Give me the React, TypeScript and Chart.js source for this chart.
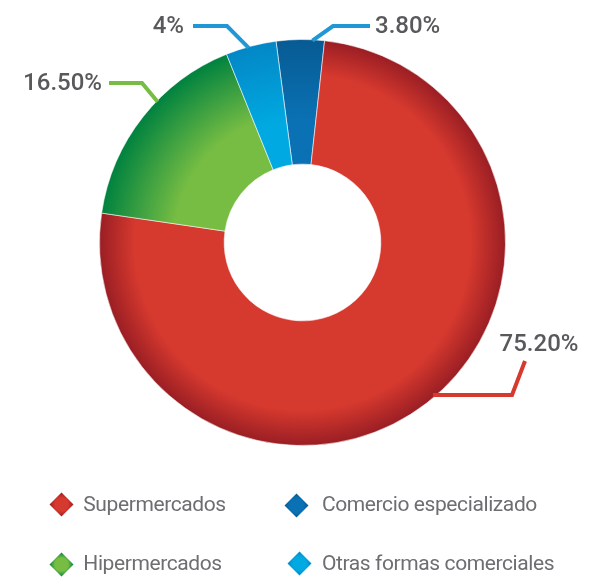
import React, { useEffect, useRef } from 'react';
import { Chart, registerables } from 'chart.js';

Chart.register(...registerables);

// ---- data (clockwise order from the top) ----
const categories = ['Comercio especializado', 'Supermercados', 'Hipermercados', 'Otras formas comerciales'];
const shares = [3.8, 75.2, 16.5, 4];
const valueLabels = ['3.80%', '75.20%', '16.50%', '4%'];
const legendOrder = ['Supermercados', 'Comercio especializado', 'Hipermercados', 'Otras formas comerciales'];

// ---- styles ----
const baseColors = ['#0a71b4', '#d6392e', '#77bd43', '#00a9e1'];
const edgeColors = ['#075b93', '#9a1e24', '#00823f', '#0387c6'];
const edgeStops = [0.35, 0.72, 0.4, 0.35];
const leaderColors = ['#2198d5', '#d6392e', '#77bd43', '#2198d5'];

type Leader = { t: number; kind: 'elbow' | 'bottom'; ex: number; ey: number; len: number; gap: number; base: number };
const leaders: Leader[] = [
  { t: 0.75, kind: 'elbow', ex: 30.5, ey: -216.5, len: 37, gap: 5, base: 7 },
  { t: 0.488, kind: 'bottom', ex: 209.5, ey: 0, len: 0, gap: 0, base: 0 },
  { t: 0.6, kind: 'elbow', ex: -160.5, ey: -159.5, len: -33, gap: 7, base: 7 },
  { t: 0.45, kind: 'elbow', ex: -75.5, ey: -216.5, len: -34, gap: 9, base: 7 },
];

const labelFont = '500 24px Roboto';

const leaderPlugin = {
  id: 'leaderLabels',
  afterDatasetsDraw(chart: any) {
    const meta = chart.getDatasetMeta(0);
    const ctx = chart.ctx;
    ctx.save();
    meta.data.forEach((arc: any, i: number) => {
      const p = arc.getProps(['x', 'y', 'startAngle', 'endAngle', 'outerRadius'], true);
      const L = leaders[i];
      const a = p.startAngle + (p.endAngle - p.startAngle) * L.t;
      const ax = p.x + Math.cos(a) * (p.outerRadius - 1);
      const ay = p.y + Math.sin(a) * (p.outerRadius - 1);
      ctx.strokeStyle = leaderColors[i];
      ctx.lineWidth = 4;
      ctx.lineJoin = 'miter';
      ctx.lineCap = 'butt';
      ctx.font = labelFont;
      ctx.fillStyle = '#58595b';
      ctx.textBaseline = 'alphabetic';
      if (L.kind === 'elbow') {
        const bx = p.x + L.ex;
        const by = p.y + L.ey;
        const cx = bx + L.len;
        ctx.beginPath();
        ctx.moveTo(ax, ay);
        ctx.lineTo(bx, by);
        ctx.lineTo(cx, by);
        ctx.stroke();
        if (L.len > 0) {
          ctx.textAlign = 'left';
          ctx.fillText(valueLabels[i], cx + L.gap, by + L.base);
        } else {
          ctx.textAlign = 'right';
          ctx.fillText(valueLabels[i], cx - L.gap, by + L.base);
        }
      } else {
        const bx = p.x + L.ex;
        const ex = bx + 13;
        const ey = ay - 34;
        ctx.beginPath();
        ctx.moveTo(ax - 2, ay);
        ctx.lineTo(bx, ay);
        ctx.lineTo(ex, ey);
        ctx.stroke();
        ctx.textAlign = 'center';
        ctx.fillText(valueLabels[i], ex + 14, ey - 10);
      }
    });
    ctx.restore();
  },
};

function sliceFill(c: any) {
  const i = c.dataIndex;
  const chart = c.chart;
  const area = chart.chartArea;
  const meta = chart.getDatasetMeta(0);
  const ctrl: any = meta && meta.controller;
  if (!area || !ctrl || !ctrl.outerRadius) return baseColors[i];
  const cx = (area.left + area.right) / 2;
  const cy = (area.top + area.bottom) / 2;
  const r0 = ctrl.innerRadius;
  const r1 = ctrl.outerRadius;
  const g = chart.ctx.createRadialGradient(cx, cy, r0, cx, cy, r1);
  g.addColorStop(0, baseColors[i]);
  g.addColorStop(edgeStops[i], baseColors[i]);
  g.addColorStop(1, edgeColors[i]);
  return g;
}

function Diamond({ color, edge, x, y }: { color: string; edge: string; x: number; y: number }) {
  const s = 17;
  return (
    <div
      style={{
        position: 'absolute',
        left: x - s / 2,
        top: y - s / 2,
        width: s,
        height: s,
        transform: 'rotate(45deg)',
        background: `radial-gradient(circle at 50% 50%, ${color} 55%, ${edge} 100%)`,
      }}
    />
  );
}

export default function App() {
  const ref = useRef<HTMLCanvasElement | null>(null);

  useEffect(() => {
    if (!ref.current) return;
    const chart = new Chart(ref.current, {
      type: 'doughnut',
      data: {
        labels: categories,
        datasets: [
          {
            data: shares,
            backgroundColor: sliceFill as any,
            borderColor: 'rgba(255,255,255,0.55)',
            borderWidth: 1,
            hoverOffset: 0,
          },
        ],
      },
      options: {
        responsive: false,
        maintainAspectRatio: false,
        animation: false,
        rotation: -7.5,
        radius: 203,
        cutout: '38.6%',
        layout: { padding: { left: 99, top: 39, right: 89, bottom: 134 } },
        plugins: {
          legend: { display: false },
          tooltip: { enabled: false },
        },
      },
      plugins: [leaderPlugin],
    });
    return () => chart.destroy();
  }, []);

  const legendPos = [
    { x: 61.7, y: 504.7, tx: 83.3, ty: 511.3 },
    { x: 296, y: 505, tx: 322, ty: 511.3 },
    { x: 61.7, y: 564.7, tx: 83.3, ty: 571 },
    { x: 299.5, y: 563.5, tx: 322, ty: 571 },
  ];
  const fontSize = 21;

  return (
    <div style={{ position: 'absolute', left: 0, top: 0, width: 595, height: 580, background: '#fff', overflow: 'hidden' }}>
      <canvas ref={ref} width={595} height={580} style={{ position: 'absolute', left: 0, top: 0, width: 595, height: 580 }} />
      {legendOrder.map((name, k) => {
        const i = categories.indexOf(name);
        const pos = legendPos[k];
        return (
          <React.Fragment key={name}>
            <Diamond color={baseColors[i]} edge={edgeColors[i]} x={pos.x} y={pos.y} />
            <div
              style={{
                position: 'absolute',
                left: pos.tx,
                top: pos.ty - 17.6,
                fontFamily: 'Roboto, sans-serif',
                fontSize,
                lineHeight: `${fontSize}px`,
                letterSpacing: '-0.4px',
                color: '#6d6e71',
                whiteSpace: 'nowrap',
              }}
            >
              {name}
            </div>
          </React.Fragment>
        );
      })}
    </div>
  );
}
